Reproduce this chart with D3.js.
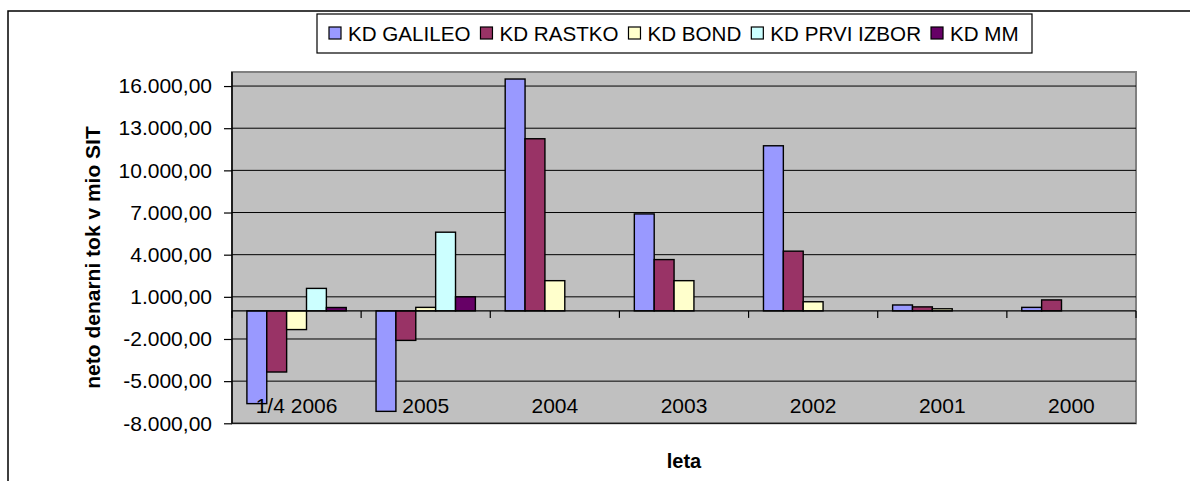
<!DOCTYPE html>
<html>
<head>
<meta charset="utf-8">
<script src="https://cdn.jsdelivr.net/npm/d3@7/dist/d3.min.js"></script>
<style>
  html, body { margin: 0; padding: 0; background: #fff; }
  svg { display: block; }
  text { font-family: "Liberation Sans", Arial, sans-serif; }
</style>
</head>
<body>
<svg id="chart" width="1190" height="481"></svg>
<script>
const categories = ["1/4 2006", "2005", "2004", "2003", "2002", "2001", "2000"];
const seriesNames = ["KD GALILEO", "KD RASTKO", "KD BOND", "KD PRVI IZBOR", "KD MM"];
const galileo  = [-6600, -7150, 16500, 6900, 11750, 420, 250];
const rastko   = [-4350, -2100, 12250, 3650, 4250, 285, 780];
const bond     = [-1330, 250, 2150, 2150, 650, 150, 0];
const prviIzbor= [1600, 5600, 0, 0, 0, 0, 0];
const mm       = [240, 1000, 0, 0, 0, 0, 0];
const yTicks   = [-8000, -5000, -2000, 1000, 4000, 7000, 10000, 13000, 16000];
const colors   = ["#9999FF", "#993366", "#FFFFCC", "#CCFFFF", "#660066"];

const seriesValues = [galileo, rastko, bond, prviIzbor, mm];

const svg = d3.select("#chart");
const plot = { left: 232, right: 1136, top: 72, bottom: 423.3 };

// outer chart border
svg.append("rect")
  .attr("x", 8).attr("y", 11).attr("width", 1250).attr("height", 520)
  .attr("fill", "#fff").attr("stroke", "#000").attr("stroke-width", 1.5);

const y = d3.scaleLinear().domain([-8000, 17000]).range([plot.bottom, plot.top]);
const x = d3.scaleBand().domain(categories).range([plot.left, plot.right]).paddingInner(0).paddingOuter(0);
const xs = d3.scaleBand().domain(seriesNames).range([0, x.bandwidth()]).paddingInner(0).paddingOuter(0.75);

const loc = d3.formatLocale({ decimal: ",", thousands: ".", grouping: [3], currency: ["", ""], minus: "-" });
const fmt = loc.format(",.2f");

// plot area
svg.append("rect")
  .attr("x", plot.left).attr("y", plot.top)
  .attr("width", plot.right - plot.left).attr("height", plot.bottom - plot.top)
  .attr("fill", "#C0C0C0").attr("stroke", "#808080").attr("stroke-width", 2);

// gridlines
svg.append("g").selectAll("line").data(yTicks).join("line")
  .attr("x1", plot.left).attr("x2", plot.right)
  .attr("y1", d => y(d)).attr("y2", d => y(d))
  .attr("stroke", "#000").attr("stroke-width", 1);

// y axis
const yAxis = d3.axisLeft(y).tickValues(yTicks).tickFormat(fmt).tickSize(8).tickPadding(12);
const gy = svg.append("g").attr("transform", `translate(${plot.left},0)`).call(yAxis);
gy.select(".domain").remove();
gy.append("line").attr("x1", 0).attr("x2", 0).attr("y1", plot.top).attr("y2", plot.bottom).attr("stroke", "#000").attr("stroke-width", 1.5);
gy.selectAll(".tick line").attr("stroke", "#000").attr("stroke-width", 1.2);
gy.selectAll(".tick text").attr("font-size", 21).attr("fill", "#000")
  .attr("font-family", "Liberation Sans, Arial, sans-serif");

// bars
const groups = svg.append("g").selectAll("g").data(categories).join("g")
  .attr("transform", d => `translate(${x(d)},0)`);
groups.selectAll("rect")
  .data((c, i) => seriesNames.map((s, j) => ({ s, j, v: seriesValues[j][i] })).filter(d => d.v !== 0))
  .join("rect")
  .attr("x", d => xs(d.s))
  .attr("width", xs.bandwidth())
  .attr("y", d => Math.min(y(d.v), y(0)))
  .attr("height", d => Math.abs(y(d.v) - y(0)))
  .attr("fill", d => colors[d.j])
  .attr("stroke", "#000").attr("stroke-width", 1.4);

// zero axis with category boundary ticks
const x0 = y(0);
svg.append("line").attr("x1", plot.left).attr("x2", plot.right)
  .attr("y1", x0).attr("y2", x0).attr("stroke", "#000").attr("stroke-width", 1.3);
const bounds = categories.map(c => x(c)).concat([plot.right]);
svg.append("g").selectAll("line").data(bounds).join("line")
  .attr("x1", d => d).attr("x2", d => d)
  .attr("y1", x0).attr("y2", x0 + 7)
  .attr("stroke", "#000").attr("stroke-width", 1.2);

// category labels (low position)
svg.append("g").selectAll("text").data(categories).join("text")
  .attr("x", d => x(d) + x.bandwidth() / 2)
  .attr("y", 412.5)
  .attr("text-anchor", "middle")
  .attr("font-size", 21).attr("fill", "#000")
  .text(d => d);

// axis titles
svg.append("text")
  .attr("transform", `translate(99.5,257.5) rotate(-90)`)
  .attr("text-anchor", "middle")
  .attr("font-size", 21).attr("font-weight", "bold")
  .text("neto denarni tok v mio SIT");
svg.append("text")
  .attr("x", (plot.left + plot.right) / 2).attr("y", 468)
  .attr("text-anchor", "middle")
  .attr("font-size", 20).attr("font-weight", "bold")
  .text("leta");

// legend
const lg = svg.append("g");
lg.append("rect")
  .attr("x", 317).attr("y", 14).attr("width", 715).attr("height", 39)
  .attr("fill", "#fff").attr("stroke", "#000").attr("stroke-width", 1.2);
let lx = 329;
seriesNames.forEach((s, j) => {
  lg.append("rect").attr("x", lx).attr("y", 27).attr("width", 12).attr("height", 12)
    .attr("fill", colors[j]).attr("stroke", "#000").attr("stroke-width", 1.2);
  const t = lg.append("text").attr("x", lx + 19).attr("y", 40.5)
    .attr("font-size", 20.6).attr("fill", "#000").text(s);
  lx = lx + 19 + t.node().getComputedTextLength() + 10;
});
</script>
</body>
</html>
